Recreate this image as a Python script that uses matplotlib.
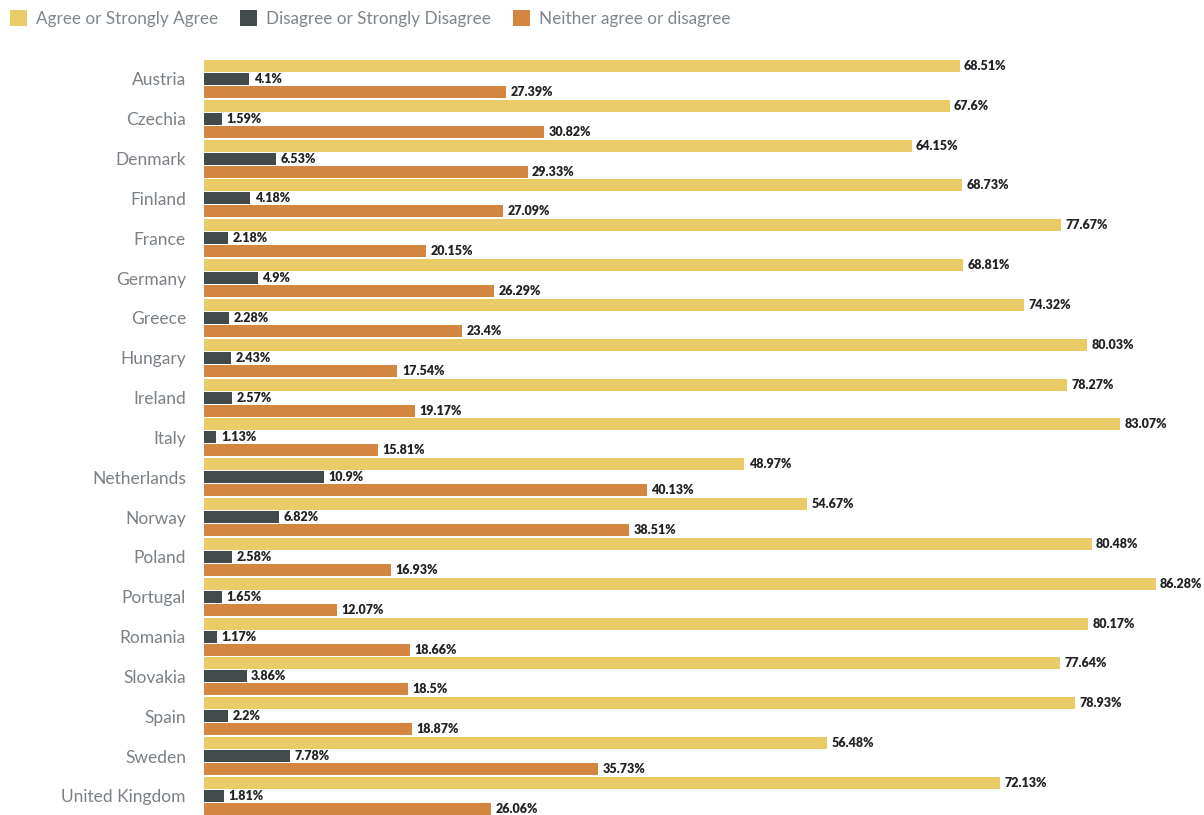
import matplotlib.pyplot as plt
import numpy as np
from matplotlib.patches import Patch

countries = ['Austria', 'Czechia', 'Denmark', 'Finland', 'France', 'Germany', 'Greece',
             'Hungary', 'Ireland', 'Italy', 'Netherlands', 'Norway', 'Poland', 'Portugal',
             'Romania', 'Slovakia', 'Spain', 'Sweden', 'United Kingdom']
agree = [68.51, 67.6, 64.15, 68.73, 77.67, 68.81, 74.32, 80.03, 78.27, 83.07,
         48.97, 54.67, 80.48, 86.28, 80.17, 77.64, 78.93, 56.48, 72.13]
disagree = [4.1, 1.59, 6.53, 4.18, 2.18, 4.9, 2.28, 2.43, 2.57, 1.13,
            10.9, 6.82, 2.58, 1.65, 1.17, 3.86, 2.2, 7.78, 1.81]
neither = [27.39, 30.82, 29.33, 27.09, 20.15, 26.29, 23.4, 17.54, 19.17, 15.81,
           40.13, 38.51, 16.93, 12.07, 18.66, 18.5, 18.87, 35.73, 26.06]
labels = ['Agree or Strongly Agree', 'Disagree or Strongly Disagree', 'Neither agree or disagree']
colors = ['#E9CB67', '#434A4B', '#D28640']

plt.rcParams['font.family'] = ['Lato', 'DejaVu Sans']

fig = plt.figure(figsize=(12.04, 8.15), dpi=100)
ax = fig.add_axes([204 / 1204, 0, 1000 / 1204, 760 / 815])

y = np.arange(len(countries))
step = 0.327
h = 0.30
for k, (vals, c) in enumerate(zip([agree, disagree, neither], colors)):
    pos = y + (k - 1) * step
    ax.barh(pos, vals, height=h, color=c)
    for p, v in zip(pos, vals):
        ax.text(v + 0.4, p, f'{v:g}%', va='center', ha='left', fontsize=9,
                fontweight='heavy', color='#222222')

ax.set_xlim(0, 1000 / 11.03)
ax.set_ylim(18.48, -0.6)
ax.set_yticks(y)
ax.set_yticklabels(countries, fontsize=12.5, color='#7A8085')
ax.tick_params(axis='y', length=0, pad=13)
ax.set_xticks([])
for s in ax.spines.values():
    s.set_visible(False)

handles = [Patch(facecolor=c, edgecolor='none') for c in colors]
fig.legend(handles, labels, loc='upper left', bbox_to_anchor=(0.0, 1.0), ncol=3,
           frameon=False, fontsize=12.3, labelcolor='#7F868B', handlelength=1.0,
           handleheight=1.0, handletextpad=0.5, columnspacing=1.3, borderaxespad=0.2)

fig.savefig('out.png', dpi=100)
